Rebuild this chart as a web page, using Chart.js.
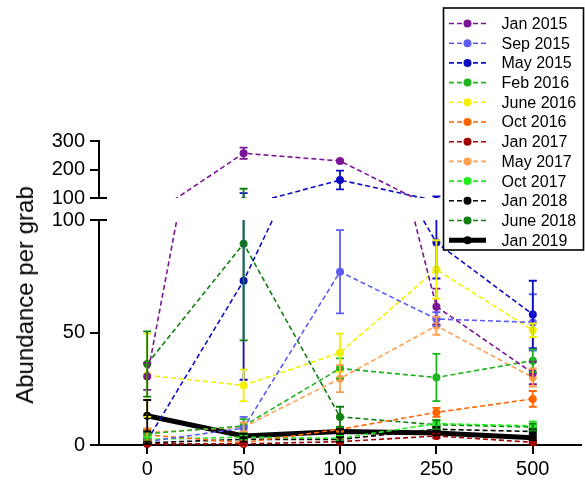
<!DOCTYPE html>
<html>
<head>
<meta charset="utf-8">
<script src="https://cdn.jsdelivr.net/npm/chart.js@4"></script>
<style>
  html, body { margin: 0; padding: 0; background: #fff; }
  #wrap { position: relative; width: 585px; height: 483px; overflow: hidden; }
  #wrap canvas { position: absolute; left: 0; top: 0; }
  #ytitle {
    position: absolute; left: 25px; top: 295px;
    transform: translate(-50%, -50%) rotate(-90deg);
    font: 24px 'Liberation Sans', Arial, sans-serif;
    white-space: nowrap; color: #000;
  }
</style>
</head>
<body>
<div id="wrap">
  <canvas id="lower" width="585" height="483"></canvas>
  <canvas id="upper" width="585" height="483"></canvas>
  <div id="ytitle">Abundance per grab</div>
</div>
<script>
// x categories
const doses = ['0', '50', '100', '250', '500'];

// means and error (+/-) per sampling date
const jan2015 = [30.5, 257, 230, 61.5, 32];
const jan2015Err = [6, 20, 3, 8, 5];
const sep2015 = [1.5, 7.5, 77, 56, 54.5];
const sep2015Err = [1, 5, 18.5, 3, 12.5];
const may2015 = [2, 73, 163, 90, 58];
const may2015Err = [1, 44, 33, 16, 15];
const feb2016 = [5, 8.5, 34, 30, 37.5];
const feb2016Err = [2, 3, 4.5, 10.5, 5];
const jun2016 = [31, 26.5, 41, 78, 51];
const jun2016Err = [18.5, 7, 8.5, 13, 3];
const oct2016 = [4.5, 1, 7, 14.5, 20.5];
const oct2016Err = [2.5, 1, 1, 2, 3.5];
const jan2017 = [0.5, 0.5, 1.5, 4, 1.2];
const jan2017Err = [0.5, 0.5, 0.5, 1, 0.5];
const may2017 = [5.5, 8, 29.5, 53, 30];
const may2017Err = [2, 2, 6, 4, 4];
const oct2017 = [2.5, 3.5, 3, 9.5, 8.5];
const oct2017Err = [1, 1, 1, 1.5, 2];
const jan2018 = [1, 2.5, 2.5, 7, 6];
const jan2018Err = [0.5, 1, 1, 1, 1];
const jun2018 = [36, 89.5, 12.5, 9, 8];
const jun2018Err = [14.5, 43, 4.5, 2, 1.5];
const jan2019 = [13, 4, 6, 5.3, 3.2];
const jan2019Err = [7, 1, 1, 1, 1];

const lowTicks = [0, 50, 100];
const highTicks = [100, 200, 300];

const series = [
  { label: 'Jan 2015', data: jan2015, err: jan2015Err, color: '#7d1496' },
  { label: 'Sep 2015', data: sep2015, err: sep2015Err, color: '#5c5cf5' },
  { label: 'May 2015', data: may2015, err: may2015Err, color: '#0d0dc4' },
  { label: 'Feb 2016', data: feb2016, err: feb2016Err, color: '#1fb51f' },
  { label: 'June 2016', data: jun2016, err: jun2016Err, color: '#f2f200' },
  { label: 'Oct 2016', data: oct2016, err: oct2016Err, color: '#ff6600' },
  { label: 'Jan 2017', data: jan2017, err: jan2017Err, color: '#a30000' },
  { label: 'May 2017', data: may2017, err: may2017Err, color: '#ffa050' },
  { label: 'Oct 2017', data: oct2017, err: oct2017Err, color: '#1ef01e' },
  { label: 'Jan 2018', data: jan2018, err: jan2018Err, color: '#000000' },
  { label: 'June 2018', data: jun2018, err: jun2018Err, color: '#0f7f0f' },
  { label: 'Jan 2019', data: jan2019, err: jan2019Err, color: '#000000', solid: true },
];

Chart.defaults.font.family = "'Liberation Sans', Arial, sans-serif";
Chart.defaults.color = '#000';

function makeDatasets(clip) {
  return series.map(s => ({
    label: s.label,
    data: s.data,
    errors: s.err,
    borderColor: s.color,
    backgroundColor: s.color,
    pointBackgroundColor: s.color,
    pointBorderColor: s.color,
    pointBorderWidth: 0,
    pointRadius: 4,
    borderWidth: s.solid ? 5 : 1.6,
    borderDash: s.solid ? [] : [5, 3],
    tension: 0,
    clip: clip,
  }));
}

// vertical error bars with caps
const errorBars = {
  id: 'errorBars',
  afterDatasetsDraw(chart, args, opts) {
    const { ctx, chartArea } = chart;
    const ys = chart.scales.y;
    ctx.save();
    ctx.beginPath();
    ctx.rect(chartArea.left - 10, chartArea.top - opts.top, chartArea.width + 20,
      chartArea.height + opts.top + opts.bottom);
    ctx.clip();
    chart.data.datasets.forEach((ds, i) => {
      const meta = chart.getDatasetMeta(i);
      ctx.strokeStyle = ds.borderColor;
      ctx.lineWidth = 1.8;
      ctx.setLineDash([]);
      ds.data.forEach((v, j) => {
        const e = ds.errors[j];
        if (!e) return;
        const x = meta.data[j].x;
        const y1 = ys.getPixelForValue(v + e);
        const y2 = ys.getPixelForValue(Math.max(v - e, 0));
        ctx.beginPath();
        ctx.moveTo(x, y1); ctx.lineTo(x, y2);
        ctx.moveTo(x - 4, y1); ctx.lineTo(x + 4, y1);
        ctx.moveTo(x - 4, y2); ctx.lineTo(x + 4, y2);
        ctx.stroke();
      });
    });
    ctx.restore();
  }
};

// longer tick at 100 to mark the axis break
const breakMark = {
  id: 'breakMark',
  afterDraw(chart) {
    const { ctx, chartArea } = chart;
    const y = chart.scales.y.getPixelForValue(100);
    ctx.save();
    ctx.strokeStyle = '#000';
    ctx.lineWidth = 2;
    ctx.beginPath();
    ctx.moveTo(chartArea.left - 9, y);
    ctx.lineTo(chartArea.left + 8, y);
    ctx.stroke();
    ctx.restore();
  }
};

// boxed legend in the top right corner
const boxLegend = {
  id: 'boxLegend',
  afterDraw(chart) {
    const ctx = chart.ctx;
    ctx.save();
    ctx.fillStyle = '#fff';
    ctx.fillRect(443.5, 8, 140, 242);
    ctx.strokeStyle = '#000';
    ctx.lineWidth = 1.6;
    ctx.strokeRect(443.5, 8, 140, 242);
    ctx.font = "16px 'Liberation Sans', Arial, sans-serif";
    ctx.textBaseline = 'middle';
    series.forEach((s, i) => {
      const y = 23.5 + i * 19.7;
      ctx.strokeStyle = s.color;
      ctx.lineWidth = s.solid ? 5 : 1.6;
      ctx.setLineDash(s.solid ? [] : [5, 3]);
      ctx.beginPath();
      ctx.moveTo(449, y); ctx.lineTo(486, y);
      ctx.stroke();
      ctx.setLineDash([]);
      ctx.fillStyle = s.color;
      ctx.beginPath();
      ctx.arc(467.5, y, 4, 0, Math.PI * 2);
      ctx.fill();
      ctx.fillStyle = '#000';
      ctx.fillText(s.label, 501.5, y + 1);
    });
    ctx.restore();
  }
};

function axisStyle() {
  return {
    border: { display: true, color: '#000', width: 2 },
    grid: { drawOnChartArea: false, drawTicks: true, color: '#000', lineWidth: 2, tickLength: 9 },
  };
}

new Chart(document.getElementById('lower'), {
  type: 'line',
  data: { labels: doses, datasets: makeDatasets({ left: 10, right: 10, top: 0, bottom: 10 }) },
  options: {
    responsive: false,
    animation: false,
    layout: { padding: { left: 0, top: 220, right: 0, bottom: 0 } },
    scales: {
      x: {
        type: 'category',
        offset: true,
        ...axisStyle(),
        ticks: { font: { size: 20 }, padding: 3, color: '#000' },
        afterFit(scale) { scale.height = 38; },
      },
      y: {
        min: 0, max: 100,
        ...axisStyle(),
        afterBuildTicks(scale) { scale.ticks = lowTicks.map(v => ({ value: v })); },
        ticks: { font: { size: 20 }, padding: 5, color: '#000' },
        afterFit(scale) { scale.width = 99; },
      },
    },
    plugins: {
      legend: { display: false },
      tooltip: { enabled: false },
      errorBars: { top: 0, bottom: 10 },
    },
  },
  plugins: [errorBars, breakMark],
});

new Chart(document.getElementById('upper'), {
  type: 'line',
  data: { labels: doses, datasets: makeDatasets({ left: 10, right: 10, top: 10, bottom: 0 }) },
  options: {
    responsive: false,
    animation: false,
    layout: { padding: { left: 0, top: 141, right: 0, bottom: 285 } },
    scales: {
      x: { type: 'category', offset: true, display: false },
      y: {
        min: 100, max: 300,
        ...axisStyle(),
        afterBuildTicks(scale) { scale.ticks = highTicks.map(v => ({ value: v })); },
        ticks: { font: { size: 20 }, padding: 5, color: '#000' },
        afterFit(scale) { scale.width = 99; },
      },
    },
    plugins: {
      legend: { display: false },
      tooltip: { enabled: false },
      errorBars: { top: 10, bottom: 0 },
    },
  },
  plugins: [errorBars, breakMark, boxLegend],
});
</script>
</body>
</html>
